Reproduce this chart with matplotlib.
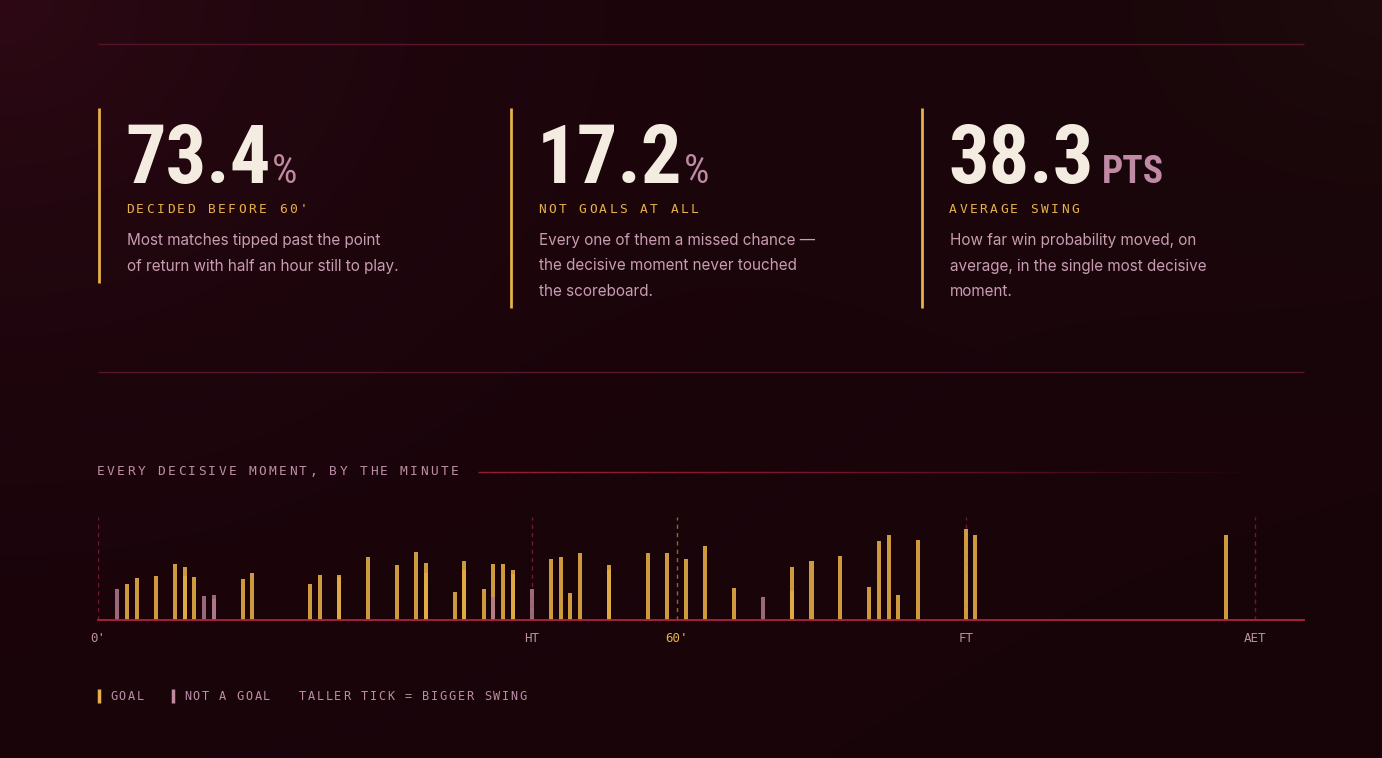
#!/usr/bin/env python3
# Decisive moments: stat cards + minute-by-minute tick strip
import numpy as np
import matplotlib
matplotlib.use('Agg')
import matplotlib.pyplot as plt
from matplotlib import font_manager
from matplotlib.collections import LineCollection

# ---- data ----
stat_values = ['73.4', '17.2', '38.3']
stat_units = ['%', '%', 'PTS']
stat_labels = ["DECIDED BEFORE 60'", 'NOT GOALS AT ALL', 'AVERAGE SWING']
stat_texts = [
    ['Most matches tipped past the point', 'of return with half an hour still to play.'],
    ['Every one of them a missed chance \u2014', 'the decisive moment never touched', 'the scoreboard.'],
    ['How far win probability moved, on', 'average, in the single most decisive', 'moment.'],
]

minutes = [2, 3, 4, 6, 8, 9, 9, 10, 11, 12, 12, 15, 16, 22, 23, 25, 25, 28, 31, 33,
           34, 34, 34, 37, 38, 38, 40, 41, 41, 42, 43, 43, 45, 47, 48, 49, 50, 53, 53,
           57, 59, 61, 63, 66, 69, 72, 72, 74, 77, 80, 81, 82, 83, 85, 90, 91, 117]
swings = [30, 35, 41, 43, 54, 51, 43, 42, 23, 24, 20, 40, 46, 35, 44, 44, 42, 61, 53, 66,
          55, 46, 36, 27, 57, 49, 30, 54, 22, 54, 49, 45, 30, 59, 61, 26, 65, 53, 49,
          65, 65, 59, 72, 31, 22, 51, 28, 57, 62, 32, 77, 83, 24, 78, 88, 83, 83]
is_goal = [0, 1, 1, 1, 1, 1, 1, 1, 0, 0, 0, 1, 1, 1, 1, 1, 1, 1, 1, 1,
           1, 1, 1, 1, 1, 1, 1, 1, 0, 1, 1, 1, 0, 1, 1, 1, 1, 1, 1,
           1, 1, 1, 1, 1, 0, 1, 1, 1, 1, 1, 1, 1, 1, 1, 1, 1, 1]

tick_minutes = [0, 45, 60, 90, 120]
tick_labels = ["0'", 'HT', "60'", 'FT', 'AET']

# ---- style ----
CREAM = '#f4ece1'
GOLD = '#e6b04a'
MAUVE = '#c08aa4'
BODY = '#c89cb1'
DIM = '#bb8ea6'
LINE = '#5a1428'
CRIMSON = '#b0223f'

names = {f.name for f in font_manager.fontManager.ttflist}
def pick(*cands):
    for c in cands:
        if c in names:
            return c
    return 'DejaVu Sans'

COND = pick('Liberation Sans Narrow', 'Roboto Condensed', 'DejaVu Sans')
MONO = pick('DejaVu Sans Mono', 'Liberation Mono')
SANS = pick('Inter', 'Lato', 'DejaVu Sans')

W, H = 1382, 758
fig = plt.figure(figsize=(W / 100, H / 100), dpi=100)

# background with a reddish glow in the top-left corner
yy, xx = np.mgrid[0:H, 0:W]
base = np.array([23, 4, 9], dtype=float)
glow1 = np.array([46, 9, 21], dtype=float)
glow2 = np.array([31, 13, 13], dtype=float)
t1 = np.exp(-np.hypot(xx, yy * 1.2) / 380.0)[..., None]
t2 = np.exp(-np.hypot(xx - W, yy * 1.3) / 260.0)[..., None] * 0.8
img = base + (glow1 - base) * t1 + (glow2 - base) * t2
img = np.clip(img / 255.0, 0, 1)

bg = fig.add_axes([0, 0, 1, 1])
bg.imshow(img, extent=(0, W, H, 0), aspect='auto', zorder=0, interpolation='bilinear')
bg.set_xlim(0, W)
bg.set_ylim(H, 0)
bg.axis('off')


def tracked(x, y, s, adv, size, color, weight='normal'):
    # mono text with wide letter spacing, one glyph at a time
    for i, ch in enumerate(s):
        bg.text(x + i * adv, y, ch, ha='left', va='center', fontsize=size,
                color=color, family=MONO, weight=weight, zorder=3)


# dividers
for y in [44, 372]:
    bg.plot([98, 1304], [y, y], color=LINE, lw=1, zorder=2, solid_capstyle='butt')

# stat cards
fig.canvas.draw()
renderer = fig.canvas.get_renderer()
card_x = [98, 510, 921]
for i in range(3):
    x0 = card_x[i]
    lines = stat_texts[i]
    bottom = 283 if len(lines) == 2 else 308
    bg.plot([x0 + 1, x0 + 1], [108, bottom], color=GOLD, lw=2, zorder=2, solid_capstyle='butt')
    num = bg.text(x0 + 27, 183, stat_values[i], ha='left', va='baseline', fontsize=58,
                  color=CREAM, family=COND, weight='bold', zorder=3)
    bb = num.get_window_extent(renderer)
    right = bb.x1  # pixels, same as data x here
    if stat_units[i] == '%':
        bg.text(right + 1, 183, '%', ha='left', va='baseline', fontsize=29,
                color=MAUVE, family=COND, weight='normal', zorder=3)
    else:
        bg.text(right + 9, 183, stat_units[i], ha='left', va='baseline', fontsize=27,
                color=MAUVE, family=COND, weight='bold', zorder=3)
    tracked(x0 + 28, 209.5, stat_labels[i], 10.2, 9.3, GOLD)
    for k, ln in enumerate(lines):
        bg.text(x0 + 29, 241 + 25 * k, ln, ha='left', va='center', fontsize=11,
                color=BODY, family=SANS, zorder=3)

# section title with a fading rule
tracked(97, 471.5, 'EVERY DECISIVE MOMENT, BY THE MINUTE', 10.1, 9.3, DIM)
xs = np.linspace(478, 1270, 80)
segs = [[(xs[j], 472), (xs[j + 1], 472)] for j in range(len(xs) - 1)]
tt = np.linspace(0, 1, len(segs))
cols = [(0.6, 0.1, 0.22, float(max(0.0, 1 - tt_ ** 1.6))) for tt_ in tt]
bg.add_collection(LineCollection(segs, colors=cols, linewidths=1, zorder=2))

# legend
bg.plot([99, 99], [689, 703], color=GOLD, lw=2.5, zorder=3, solid_capstyle='butt')
tracked(110, 696.5, 'GOAL', 8.8, 8.6, DIM)
bg.plot([173, 173], [689, 703], color='#c08a9f', lw=2.5, zorder=3, solid_capstyle='butt')
tracked(184, 696.5, 'NOT A GOAL', 8.8, 8.6, DIM)
tracked(299, 696.5, 'TALLER TICK = BIGGER SWING', 8.8, 8.6, DIM)

# ---- minute strip ----
px_per_min = (1255 - 98) / 120.0
ax = fig.add_axes([98 / W, (H - 620) / H, (1304 - 98) / W, 103 / H])
ax.set_facecolor('none')
ax.set_xlim(0, (1304 - 98) / px_per_min)
ax.set_ylim(0, 100)
for s in ax.spines.values():
    s.set_visible(False)

for m in [0, 45, 90, 120]:
    ax.vlines(m, 0, 100, colors='#701833', lw=1, linestyles=(0, (3, 3)), zorder=1)
ax.vlines(60, 0, 100, colors='#8f6a2c', lw=1, linestyles=(0, (3, 3)), zorder=1)

mins = np.array(minutes)
sw = np.array(swings)
goal = np.array(is_goal, dtype=bool)
ax.bar(mins[goal], sw[goal], width=0.42, color='#e3ac44', alpha=0.9, zorder=2, linewidth=0)
ax.bar(mins[~goal], sw[~goal], width=0.42, color='#b07a90', alpha=0.85, zorder=3, linewidth=0)
ax.axhline(0, color=CRIMSON, lw=1.3, zorder=4, clip_on=False)

ax.set_xticks(tick_minutes)
ax.set_xticklabels(tick_labels, family=MONO, fontsize=9, color=DIM)
ax.get_xticklabels()[2].set_color(GOLD)
ax.tick_params(axis='x', length=0, pad=9)
ax.set_yticks([])

fig.savefig('out.png', dpi=100, facecolor='#170409')
